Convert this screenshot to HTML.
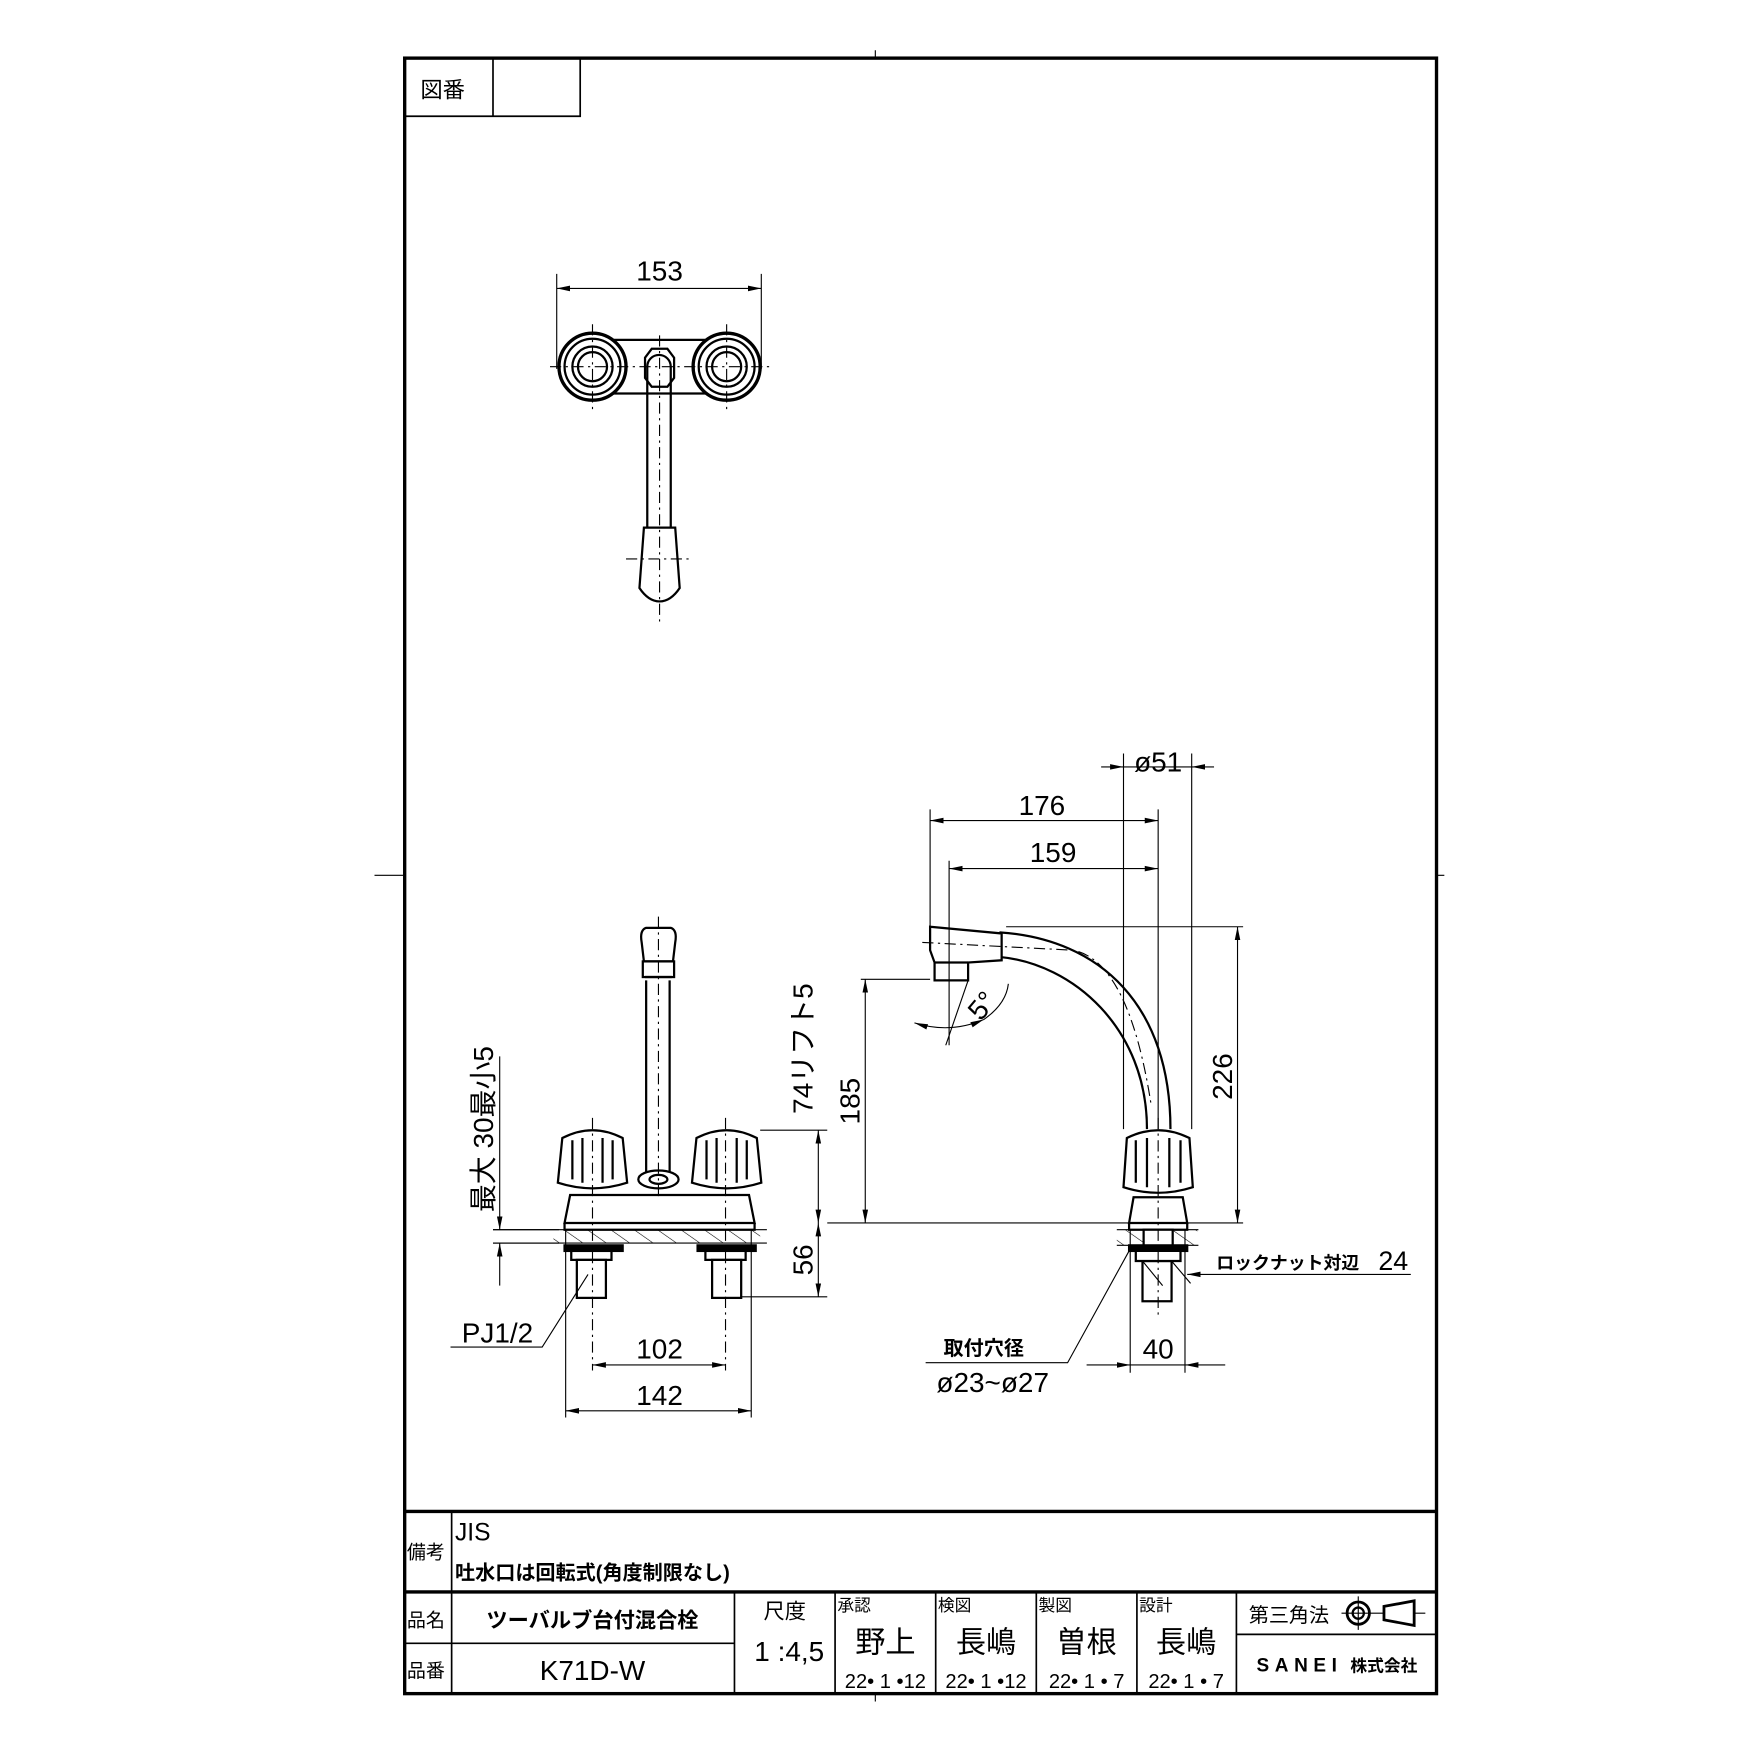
<!DOCTYPE html>
<html><head><meta charset="utf-8"><style>
html,body{margin:0;padding:0;background:#fff}
svg{display:block}
text{font-family:"Liberation Sans","Noto Sans CJK JP",sans-serif;fill:#000}
</style></head><body>
<svg width="1754" height="1754" viewBox="0 0 1569 1569" xmlns="http://www.w3.org/2000/svg">
<defs>
<marker id="a" viewBox="0 0 12 6" refX="12" refY="3" markerWidth="12" markerHeight="6" orient="auto-start-reverse" markerUnits="userSpaceOnUse"><path d="M0,0.5 L12,3 L0,5.5 z" fill="#000"/></marker>
<pattern id="h" width="12" height="12" patternUnits="userSpaceOnUse" patternTransform="rotate(-55)"><line x1="0" y1="0" x2="0" y2="12" stroke="#000" stroke-width="1"/></pattern>
</defs>
<g fill="none" stroke="#000">
<!-- frame -->
<rect x="362" y="52" width="923" height="1463" stroke-width="3"/>
<path d="M783,45V52M783,1515V1522M335,783H362M1285,783H1292" stroke-width="1"/>
<path d="M362,104H519V52M441,52V104" stroke-width="1.5"/>
<!-- title block -->
<path d="M362,1352H1285M362,1424H1285" stroke-width="3"/>
<path d="M404,1352V1515M362,1470H657M657,1424V1515M747,1424V1515M837,1424V1515M927,1424V1515M1017,1424V1515M1106,1424V1515M1106,1462H1285" stroke-width="1.5"/>

<!-- TOP VIEW -->
<g stroke-width="2">
<path d="M548,304H632M548,352H632"/>
<circle cx="530" cy="328" r="30" stroke-width="3"/>
<circle cx="530" cy="328" r="25"/>
<circle cx="530" cy="328" r="18"/>
<circle cx="530" cy="328" r="13"/>
<circle cx="650" cy="328" r="30" stroke-width="3"/>
<circle cx="650" cy="328" r="25"/>
<circle cx="650" cy="328" r="18"/>
<circle cx="650" cy="328" r="13"/>
<path d="M577,320L583,312H597L603,320V338L597,346H583L577,338Z" fill="#fff"/>
<path d="M579,328V472M600,328V472M579,328A10.5,10.5 0 0 1 600,328"/>
<path d="M576,472H604L608,526Q600,538 590,538Q580,538 572,526Z" fill="#fff"/>
</g>
<path d="M492,328H690M530,290V366M650,290V366M590,300V560M560,500H620" stroke-width="1" stroke-dasharray="10,4,2,4"/>
<path d="M498,245V330M681,245V330" stroke-width="1"/>
<path d="M498,258H681" stroke-width="1" marker-start="url(#a)" marker-end="url(#a)"/>

<!-- FRONT VIEW -->
<g stroke-width="2">
<path d="M578,877V1050M599,877V1050"/>
<path d="M574,843Q572,832 578,830H600Q606,832 604,843L602,860H576Z" fill="#fff"/>
<rect x="575" y="860" width="28" height="14" fill="#fff"/>
<path d="M577,874H601"/>
<ellipse cx="589" cy="1055" rx="18" ry="8" fill="#fff"/>
<ellipse cx="589" cy="1055" rx="8" ry="4"/>
<!-- knobs -->
<path d="M503,1018Q530,1004 557,1018L561,1058Q530,1068 499,1058Z" fill="#fff"/>
<path d="M512,1020V1055M521,1018V1058M539,1018V1058M548,1020V1055"/>
<path d="M623,1018Q650,1004 677,1018L681,1058Q650,1068 619,1058Z" fill="#fff"/>
<path d="M632,1020V1055M641,1018V1058M659,1018V1058M668,1020V1055"/>
<!-- base -->
<path d="M510,1069H670L675,1094H505Z" fill="#fff"/>
<path d="M505,1094V1100H675V1094"/>
<rect x="495" y="1100" width="185" height="12" fill="url(#h)" stroke="none"/>
<path d="M441,1100H686M441,1112H686" stroke-width="1"/>
<rect x="505" y="1114" width="52" height="5" fill="#000"/>
<rect x="624" y="1114" width="52" height="5" fill="#000"/>
<rect x="511" y="1119" width="36" height="8" fill="#fff"/>
<rect x="631" y="1119" width="36" height="8" fill="#fff"/>
<rect x="516" y="1127" width="26" height="34"/>
<rect x="637" y="1127" width="26" height="34"/>
</g>
<path d="M530,1000V1226M649,1000V1226M589,820V1070" stroke-width="1" stroke-dasharray="10,4,2,4"/>
<!-- front dims -->
<path d="M680,1011H740M740,1094H1112M663,1160H740M770,876H832" stroke-width="1"/>
<path d="M732,1011V1094" stroke-width="1" marker-start="url(#a)" marker-end="url(#a)"/>
<path d="M732,1094V1160" stroke-width="1" marker-start="url(#a)" marker-end="url(#a)"/>
<path d="M774,876V1094" stroke-width="1" marker-start="url(#a)" marker-end="url(#a)"/>
<path d="M447,945V1100" stroke-width="1" marker-end="url(#a)"/>
<path d="M447,1150V1112" stroke-width="1" marker-end="url(#a)"/>
<path d="M441,1100H500M441,1112H500" stroke-width="1"/>
<path d="M403,1205H485L526,1140" stroke-width="1"/>
<path d="M506,1100V1268M672,1100V1268" stroke-width="1"/>
<path d="M530,1221H649" stroke-width="1" marker-start="url(#a)" marker-end="url(#a)"/>
<path d="M506,1262H672" stroke-width="1" marker-start="url(#a)" marker-end="url(#a)"/>

<!-- SIDE VIEW -->
<g stroke-width="2">
<path d="M894,834C985,840 1047,900 1047,1010"/>
<path d="M894,856C960,862 1026,920 1026,1010"/>
<path d="M832,829L896,835V859L866,861V877H836V861L832,850Z" fill="#fff"/>
<path d="M836,861H866"/>
<path d="M1008,1018Q1036,1004 1064,1018L1067,1062Q1036,1072 1005,1062Z" fill="#fff"/>
<path d="M1016,1020V1058M1026,1018V1062M1046,1018V1062M1056,1020V1058"/>
<path d="M1014,1071H1058L1062,1094H1010Z" fill="#fff"/>
<path d="M1010,1094V1100H1062V1094"/>
<rect x="999" y="1100" width="72" height="14" fill="url(#h)" stroke="none"/>
<path d="M999,1100H1072M999,1114H1072" stroke-width="1"/>
<rect x="1010" y="1114" width="52" height="5" fill="#000"/>
<rect x="1023" y="1100" width="26" height="14" fill="#fff"/>
<rect x="1022" y="1128" width="26" height="36"/>
<path d="M1016,1119H1056V1128H1016Z" fill="#fff"/>
</g>
<path d="M1036,1000V1180M825,843L960,850Q1010,860 1030,990" stroke-width="1" stroke-dasharray="10,4,2,4"/>
<!-- side dims -->
<path d="M1005,674V1010M1066,674V1010" stroke-width="1"/>
<path d="M985,686H1005" stroke-width="1" marker-end="url(#a)"/>
<path d="M1086,686H1066" stroke-width="1" marker-end="url(#a)"/>
<path d="M1005,686H1066" stroke-width="1"/>
<path d="M832,724V829M849,770V935M1036,724V1010" stroke-width="1"/>
<path d="M832,734H1036" stroke-width="1" marker-start="url(#a)" marker-end="url(#a)"/>
<path d="M849,777H1036" stroke-width="1" marker-start="url(#a)" marker-end="url(#a)"/>
<path d="M900,829H1112" stroke-width="1"/>
<path d="M1107,829V1094" stroke-width="1" marker-start="url(#a)" marker-end="url(#a)"/>
<path d="M818,915Q850,925 880,912" stroke-width="1" marker-start="url(#a)" marker-end="url(#a)"/>
<path d="M880,912Q900,898 902,880" stroke-width="1"/>
<path d="M866,877L846,935" stroke-width="1"/>
<path d="M1262,1140H1062" stroke-width="1" marker-end="url(#a)"/>
<path d="M1011,1100V1228M1060,1100V1228" stroke-width="1"/>
<path d="M972,1221H1011" stroke-width="1" marker-end="url(#a)"/>
<path d="M1096,1221H1060" stroke-width="1" marker-end="url(#a)"/>
<path d="M1011,1221H1060" stroke-width="1"/>
<path d="M828,1219H955L1010,1119" stroke-width="1"/>
<path d="M1048,1128L1065,1148M1022,1128L1040,1150" stroke-width="1"/>

<!-- third angle symbol -->
<circle cx="1215" cy="1443" r="10" stroke-width="2.5"/>
<circle cx="1215" cy="1443" r="5" stroke-width="2"/>
<path d="M1200,1443H1275M1215,1428V1458" stroke-width="1"/>
<path d="M1238,1437L1265,1432V1454L1238,1449Z" stroke-width="2.5" fill="#fff"/>
</g>

<!-- TEXT -->
<g font-size="25" text-anchor="middle">
<text x="590" y="251">153</text>
<text x="590" y="1215">102</text>
<text x="590" y="1257">142</text>
<text x="932" y="729">176</text>
<text x="942" y="771">159</text>
<text x="1036" y="690">ø51</text>
<text x="1036" y="1215">40</text>
<text x="888" y="1245">ø23~ø27</text>
<text x="445" y="1201">PJ1/2</text>
<text transform="translate(727,938) rotate(-90)">74リフト5</text>
<text transform="translate(727,1127) rotate(-90)">56</text>
<text transform="translate(769,985) rotate(-90)">185</text>
<text transform="translate(1102,963) rotate(-90)">226</text>
<text transform="translate(441,1010) rotate(-90)">最大 30最小5</text>
<text transform="translate(885,905) rotate(-50)">5°</text>
</g>
<text x="1088" y="1135" font-size="16" font-weight="bold">ロックナット対辺</text>
<text x="1233" y="1136" font-size="24">24</text>
<text x="880" y="1212" font-size="18" font-weight="bold" text-anchor="middle">取付穴径</text>

<g font-size="20">
<text x="376" y="87">図番</text>
<text x="364" y="1394" font-size="17">備考</text>
<text x="407" y="1378" font-size="22">JIS</text>
<text x="407" y="1413" font-size="18" font-weight="bold">吐水口は回転式(角度制限なし)</text>
<text x="364" y="1455" font-size="17">品名</text>
<text x="364" y="1500" font-size="17">品番</text>
<text x="530" y="1456" font-size="19" font-weight="bold" text-anchor="middle">ツーバルブ台付混合栓</text>
<text x="530" y="1503" font-size="25" text-anchor="middle">K71D-W</text>
<text x="702" y="1448" font-size="19" text-anchor="middle">尺度</text>
<text x="706" y="1486" font-size="25" text-anchor="middle">1 :4,5</text>
<text x="749" y="1441" font-size="15">承認</text>
<text x="839" y="1441" font-size="15">検図</text>
<text x="929" y="1441" font-size="15">製図</text>
<text x="1019" y="1441" font-size="15">設計</text>
<text x="792" y="1478" font-size="27" text-anchor="middle">野上</text>
<text x="882" y="1478" font-size="27" text-anchor="middle">長嶋</text>
<text x="972" y="1478" font-size="27" text-anchor="middle">曽根</text>
<text x="1061" y="1478" font-size="27" text-anchor="middle">長嶋</text>
<text x="792" y="1510" font-size="18" text-anchor="middle">22• 1 •12</text>
<text x="882" y="1510" font-size="18" text-anchor="middle">22• 1 •12</text>
<text x="972" y="1510" font-size="18" text-anchor="middle">22• 1 • 7</text>
<text x="1061" y="1510" font-size="18" text-anchor="middle">22• 1 • 7</text>
<text x="1117" y="1451" font-size="18">第三角法</text>
<text x="1124" y="1495" font-size="17" font-weight="bold" letter-spacing="5">SANEI</text>
<text x="1208" y="1495" font-size="15" font-weight="bold">株式会社</text>
</g>
</svg>
</body></html>
